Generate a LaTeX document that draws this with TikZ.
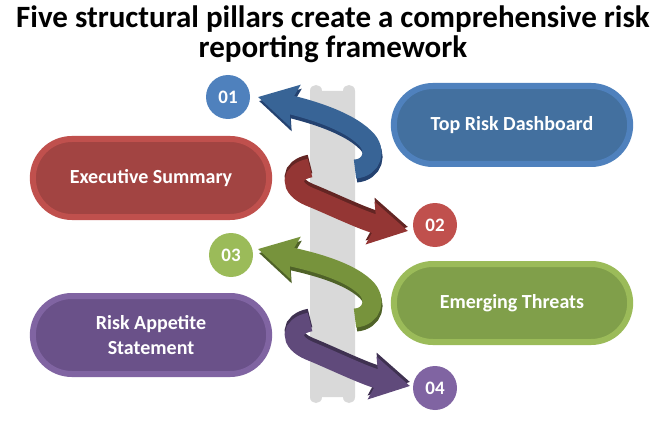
\documentclass[tikz,border=0pt]{standalone}
\usepackage{fontspec}
\setmainfont{Carlito}
\usetikzlibrary{arrows.meta,shapes.misc}
\definecolor{blueL}{HTML}{4F81BD}
\definecolor{blueD}{HTML}{43709F}
\definecolor{blueA}{HTML}{386496}
\definecolor{blueS}{HTML}{244270}
\definecolor{redL}{HTML}{C0504D}
\definecolor{redD}{HTML}{A24442}
\definecolor{redA}{HTML}{943634}
\definecolor{redS}{HTML}{632523}
\definecolor{greenL}{HTML}{9BBB59}
\definecolor{greenD}{HTML}{809F4A}
\definecolor{greenA}{HTML}{77933C}
\definecolor{greenS}{HTML}{4F6228}
\definecolor{purpleL}{HTML}{8064A2}
\definecolor{purpleD}{HTML}{6A5189}
\definecolor{purpleA}{HTML}{604A7B}
\definecolor{purpleS}{HTML}{3F3151}
\definecolor{pillar}{HTML}{D9D9D9}
\begin{document}
\begin{tikzpicture}[x=1pt,y=-1pt,
pill/.style={rounded rectangle,line width=6pt,minimum width=243pt,minimum height=78pt,text=white,font=\fontsize{20}{25}\selectfont\bfseries,align=center},
num/.style={circle,minimum size=44pt,inner sep=0pt,text=white,font=\fontsize{19}{22}\selectfont\bfseries},
band/.style={line width=19pt,-{Stealth[length=38pt,width=42pt,inset=6pt]}}]
\useasboundingbox (0,0) rectangle (667,425);
\node[font=\fontsize{31}{30}\selectfont\bfseries,align=center] (title) at (333,34) {Five structural pillars create a comprehensive risk\\reporting framework};
\node[pill,draw=blueL,fill=blueD] (dash) at (512,125) {Top Risk Dashboard};
\node[pill,draw=redL,fill=redD] (exec) at (151,178) {Executive Summary};
\node[pill,draw=greenL,fill=greenD] (threat) at (512,303) {Emerging Threats};
\node[pill,draw=purpleL,fill=purpleD] (appetite) at (151,335) {Risk Appetite\\Statement};
\node[num,fill=blueL] (c01) at (228,97) {01};
\node[num,fill=redL] (c02) at (435,225) {02};
\node[num,fill=greenL] (c03) at (231,255) {03};
\node[num,fill=purpleL] (c04) at (435,388) {04};
\fill[pillar] (310,397) -- (310,91) .. controls (310,83) and (322,83) .. (322,91) -- (343,91) .. controls (343,83) and (355,83) .. (355,91) -- (355,397) .. controls (355,405) and (343,405) .. (343,397) -- (322,397) .. controls (322,405) and (310,405) .. (310,397) -- cycle;
\coordinate (s01) at (355,169);
\coordinate (h01) at (258,97);
\coordinate (s02) at (310,168);
\coordinate (h02) at (408,231);
\coordinate (s03) at (355,318);
\coordinate (h03) at (258,249);
\coordinate (s04) at (310,322);
\coordinate (h04) at (410,386);
\draw[band,blueS,transform canvas={xshift=1pt,yshift=-4pt}] (s01) .. controls (372,168) and (378,150) .. (365,138) .. controls (345,118) and (300,107) .. (h01);
\draw[band,blueA] (s01) .. controls (372,168) and (378,150) .. (365,138) .. controls (345,118) and (300,107) .. (h01);
\draw[band,redS,transform canvas={yshift=4pt}] (s02) .. controls (290,172) and (288,188) .. (310,197) .. controls (330,205) and (365,222) .. (h02);
\draw[band,redA] (s02) .. controls (290,172) and (288,188) .. (310,197) .. controls (330,205) and (365,222) .. (h02);
\draw[band,greenS,transform canvas={xshift=1pt,yshift=-4pt}] (s03) .. controls (372,317) and (378,299) .. (365,287) .. controls (345,268) and (300,259) .. (h03);
\draw[band,greenA] (s03) .. controls (372,317) and (378,299) .. (365,287) .. controls (345,268) and (300,259) .. (h03);
\draw[band,purpleS,transform canvas={yshift=4pt}] (s04) .. controls (290,326) and (288,342) .. (310,351) .. controls (330,359) and (367,377) .. (h04);
\draw[band,purpleA] (s04) .. controls (290,326) and (288,342) .. (310,351) .. controls (330,359) and (367,377) .. (h04);
\end{tikzpicture}
\end{document}
